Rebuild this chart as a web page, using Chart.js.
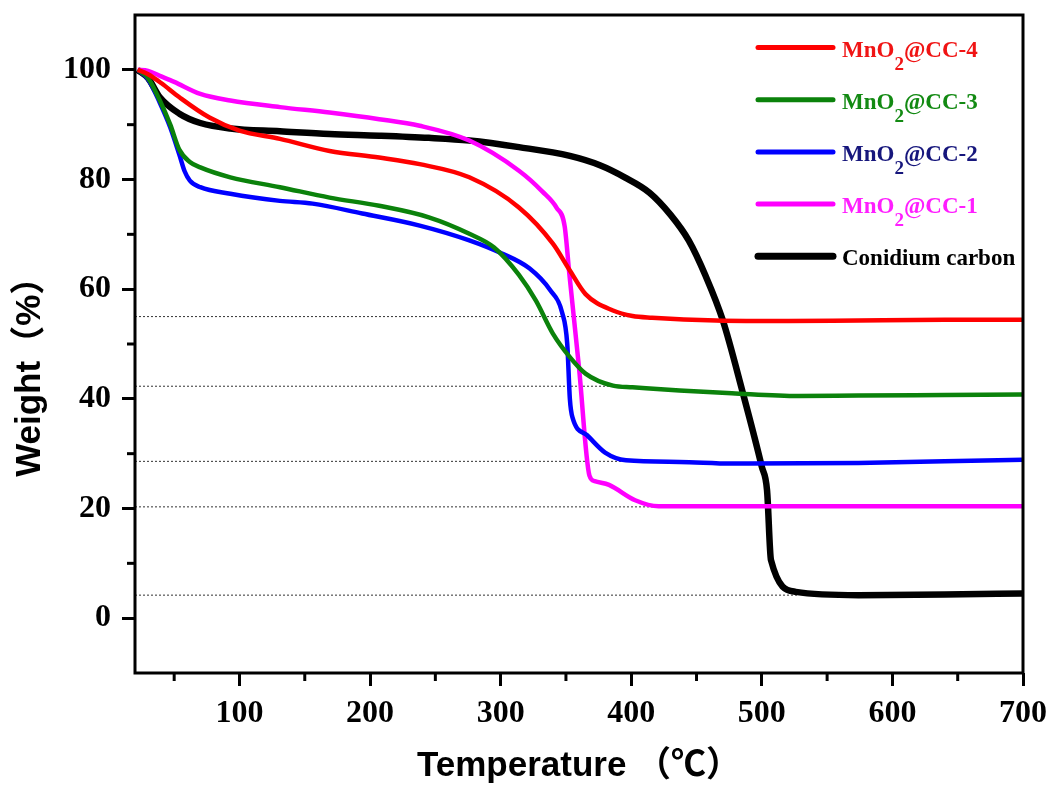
<!DOCTYPE html>
<html>
<head>
<meta charset="utf-8">
<script src="https://cdn.jsdelivr.net/npm/chart.js@4/dist/chart.umd.min.js"></script>
<style>
  html, body { margin: 0; padding: 0; background: #fff; }
  #wrap { width: 1053px; height: 787px; }
</style>
</head>
<body>
<div id="wrap"><canvas id="tga" width="1053" height="787"></canvas></div>
<script>
const seriesNames = ["MnO₂@CC-4", "MnO₂@CC-3", "MnO₂@CC-2", "MnO₂@CC-1", "Conidium carbon"];

const tempCC4 = [22, 30, 40, 54, 77, 100, 131, 169, 207, 238, 276, 314, 340, 353, 365, 386, 401, 416, 465, 520, 574, 640, 700];
const weightCC4 = [100, 99.2, 97.6, 95, 91.3, 88.9, 87.4, 85.2, 84.0, 82.8, 80.4, 74.9, 68.3, 63.4, 59.1, 56.1, 55.1, 54.8, 54.3, 54.2, 54.3, 54.4, 54.4];

const tempCC3 = [22, 30, 39, 47, 54, 62, 70, 93, 131, 169, 207, 245, 276, 295, 314, 327, 340, 353, 365, 386, 401, 437, 477, 528, 574, 640, 700];
const weightCC3 = [100, 98.5, 94.4, 90, 85.4, 83.2, 82.2, 80.4, 78.6, 76.7, 75.2, 73.1, 70.1, 67.6, 62.6, 57.9, 51.9, 47.6, 44.6, 42.4, 42.1, 41.5, 41.0, 40.5, 40.6, 40.7, 40.8];

const tempCC2 = [22, 30, 39, 47, 54, 58, 62, 70, 93, 131, 156, 194, 238, 276, 301, 322, 338, 347, 351, 353, 355, 366, 380, 396, 437, 477, 574, 640, 700];
const weightCC2 = [100, 98.3, 94, 89.5, 84.5, 81.5, 79.8, 78.6, 77.4, 76.1, 75.6, 73.8, 71.6, 68.9, 66.5, 63.8, 59.8, 55.8, 50, 40, 36.6, 33.4, 30.2, 28.8, 28.5, 28.2, 28.3, 28.6, 28.9];

const tempCC1 = [22, 30, 39, 50, 70, 93, 131, 169, 207, 238, 276, 314, 332, 343, 349, 352.6, 360, 368, 372, 383, 403, 421, 500, 600, 700];
const weightCC1 = [100, 99.8, 98.9, 97.8, 95.6, 94.4, 93.2, 92.2, 91.0, 89.8, 87.1, 81.6, 77.8, 74.8, 71.5, 62.8, 45.7, 26, 25, 24.3, 21.5, 20.4, 20.4, 20.4, 20.4];

const tempCarbon = [22, 30, 39, 54, 70, 93, 131, 169, 207, 245, 276, 314, 353, 376, 395, 414, 430, 444, 457, 470, 485, 500, 504, 507, 526, 574, 640, 700];
const weightCarbon = [100, 98.5, 95, 92, 90.3, 89.3, 88.8, 88.3, 88.0, 87.6, 87.1, 85.9, 84.3, 82.6, 80.4, 77.6, 73.6, 68.9, 62.4, 54.4, 41.5, 27.6, 23.3, 10.6, 4.8, 4.2, 4.3, 4.5];

// niveaux residuels (pointilles)
const residualLevels = [55.0, 42.3, 28.6, 20.3, 4.2];
const residualEnds = [400, 398, 398, 431, 527];

// graduations
const xTickValues = [100, 200, 300, 400, 500, 600, 700];
const xMinorValues = [50, 150, 250, 350, 450, 550, 650];
const yTickValues = [0, 20, 40, 60, 80, 100];
const yMinorValues = [10, 30, 50, 70, 90];

const lineColors = ["#ff0000", "#0b820b", "#0000ff", "#ff00ff", "#000000"];
const textColors = ["#f01414", "#138a13", "#16167c", "#ff1eff", "#000000"];
const lineWidths = [4.5, 4.5, 4.5, 4.5, 6.5];

function toPoints(temps, weights) {
  return temps.map((t, i) => ({ x: t, y: weights[i] }));
}

const curves = [
  toPoints(tempCC4, weightCC4),
  toPoints(tempCC3, weightCC3),
  toPoints(tempCC2, weightCC2),
  toPoints(tempCC1, weightCC1),
  toPoints(tempCarbon, weightCarbon),
];

const datasets = curves.map((pts, i) => ({
  label: seriesNames[i],
  data: pts,
  borderColor: lineColors[i],
  borderWidth: lineWidths[i],
  pointRadius: 0,
  cubicInterpolationMode: "monotone",
  fill: false,
  order: i === 4 ? 1 : 0,
}));

residualLevels.forEach((lvl, i) => {
  datasets.push({
    label: "ref" + i,
    data: [{ x: 20, y: lvl }, { x: residualEnds[i], y: lvl }],
    borderColor: "#333333",
    borderWidth: 1,
    borderDash: [2, 2],
    pointRadius: 0,
    order: 10,
  });
});

// cadre, petites graduations et legende
const framePlugin = {
  id: "frame",
  afterDraw(chart) {
    const ctx = chart.ctx;
    const a = chart.chartArea;
    const xs = chart.scales.x;
    const ys = chart.scales.y;
    ctx.save();
    ctx.strokeStyle = "#000";
    ctx.lineWidth = 3;
    ctx.strokeRect(a.left, a.top, a.right - a.left, a.bottom - a.top);
    xMinorValues.forEach((v) => {
      const px = xs.getPixelForValue(v);
      ctx.beginPath();
      ctx.moveTo(px, a.bottom);
      ctx.lineTo(px, a.bottom + 8);
      ctx.stroke();
    });
    yMinorValues.forEach((v) => {
      const py = ys.getPixelForValue(v);
      ctx.beginPath();
      ctx.moveTo(a.left, py);
      ctx.lineTo(a.left - 8, py);
      ctx.stroke();
    });

    // legende
    const x0 = 758, x1 = 833, y0 = 47.5, dy = 52.2;
    chart.data.datasets.slice(0, 5).forEach((ds, i) => {
      const y = y0 + i * dy;
      ctx.strokeStyle = ds.borderColor;
      ctx.lineWidth = i === 4 ? 7 : 5;
      ctx.lineCap = "round";
      ctx.beginPath();
      ctx.moveTo(x0, y);
      ctx.lineTo(x1, y);
      ctx.stroke();
      ctx.fillStyle = textColors[i];
      ctx.textBaseline = "alphabetic";
      ctx.textAlign = "left";
      const parts = ds.label.split("₂");
      let tx = 842;
      ctx.font = "bold 23px 'Liberation Serif', 'Times New Roman', serif";
      ctx.fillText(parts[0], tx, y + 9);
      tx += ctx.measureText(parts[0]).width;
      if (parts.length > 1) {
        ctx.font = "bold 19px 'Liberation Serif', 'Times New Roman', serif";
        ctx.fillText("2", tx, y + 22);
        tx += ctx.measureText("2").width;
        ctx.font = "bold 23px 'Liberation Serif', 'Times New Roman', serif";
        ctx.fillText(parts[1], tx, y + 9);
      }
    });
    ctx.restore();
  },
};

const tickFont = { family: "'Liberation Serif', 'Times New Roman', serif", size: 32, weight: "bold" };
const titleFont = { family: "'Liberation Sans', Arial, 'Noto Sans CJK SC', sans-serif", size: 35, weight: "bold" };

new Chart(document.getElementById("tga"), {
  type: "line",
  data: { datasets },
  plugins: [framePlugin],
  options: {
    responsive: false,
    devicePixelRatio: 1,
    animation: false,
    layout: { padding: { left: 0, top: 15, right: 30, bottom: 0 } },
    plugins: {
      legend: { display: false },
      tooltip: { enabled: false },
    },
    scales: {
      x: {
        type: "linear",
        min: 20,
        max: 700,
        afterBuildTicks: (s) => { s.ticks = xTickValues.map((v) => ({ value: v })); },
        afterFit: (s) => { s.height = 114; s.paddingLeft = 0; s.paddingRight = 0; },
        border: { display: false },
        grid: { drawOnChartArea: false, drawTicks: true, tickLength: 13, tickWidth: 3, tickColor: "#000" },
        ticks: { color: "#000", font: tickFont, padding: 9, maxRotation: 0 },
        title: { display: true, text: "Temperature （℃）", color: "#000", font: titleFont, padding: { top: 0, bottom: 0 } },
      },
      y: {
        type: "linear",
        min: -10,
        max: 110,
        afterBuildTicks: (s) => { s.ticks = yTickValues.map((v) => ({ value: v })); },
        afterFit: (s) => { s.width = 135; s.paddingTop = 0; s.paddingBottom = 0; },
        border: { display: false },
        grid: { drawOnChartArea: false, drawTicks: true, tickLength: 13, tickWidth: 3, tickColor: "#000" },
        ticks: { color: "#000", font: tickFont, padding: 11 },
        title: { display: true, text: "Weight（%）     ", color: "#000", font: titleFont, padding: { top: 9, bottom: 0 } },
      },
    },
  },
});
</script>
</body>
</html>
